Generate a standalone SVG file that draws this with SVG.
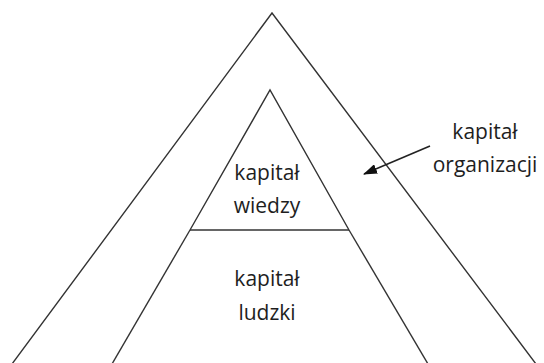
<svg xmlns="http://www.w3.org/2000/svg" width="544" height="363" viewBox="0 0 544 363">
  <style>
    .edge { fill: none; stroke: #333; stroke-width: 1.4; }
    .lbl { font-family: "Open Sans", "Noto Sans", sans-serif; font-size: 21px; fill: #1e1e1e; text-anchor: middle; }
  </style>
  <defs>
    <marker id="head" viewBox="0 0 14 10" refX="13" refY="5" markerWidth="14" markerHeight="10" markerUnits="userSpaceOnUse" orient="auto">
      <path d="M0,0 L14,5 L0,10 z" fill="#111"/>
    </marker>
  </defs>
  <rect width="544" height="363" fill="#fff"/>
  <g id="organizacja">
    <polyline class="edge" points="12,364 272,13 536,364"/>
    <text class="lbl" x="485" y="139">kapitał</text>
    <text class="lbl" x="485" y="172">organizacji</text>
  </g>
  <g id="wiedza">
    <polyline class="edge" points="190,230 270,90 349,230"/>
    <line class="edge" x1="190" y1="230" x2="349" y2="230"/>
    <text class="lbl" x="267" y="180">kapitał</text>
    <text class="lbl" x="267" y="213">wiedzy</text>
  </g>
  <g id="ludzki">
    <line class="edge" x1="190" y1="230" x2="112" y2="364"/>
    <line class="edge" x1="349" y1="230" x2="428" y2="364"/>
    <text class="lbl" x="267" y="286">kapitał</text>
    <text class="lbl" x="267" y="320">ludzki</text>
  </g>
  <g id="connectors">
    <line x1="430" y1="146" x2="364" y2="174" stroke="#222" stroke-width="1.6" marker-end="url(#head)"/>
  </g>
</svg>
